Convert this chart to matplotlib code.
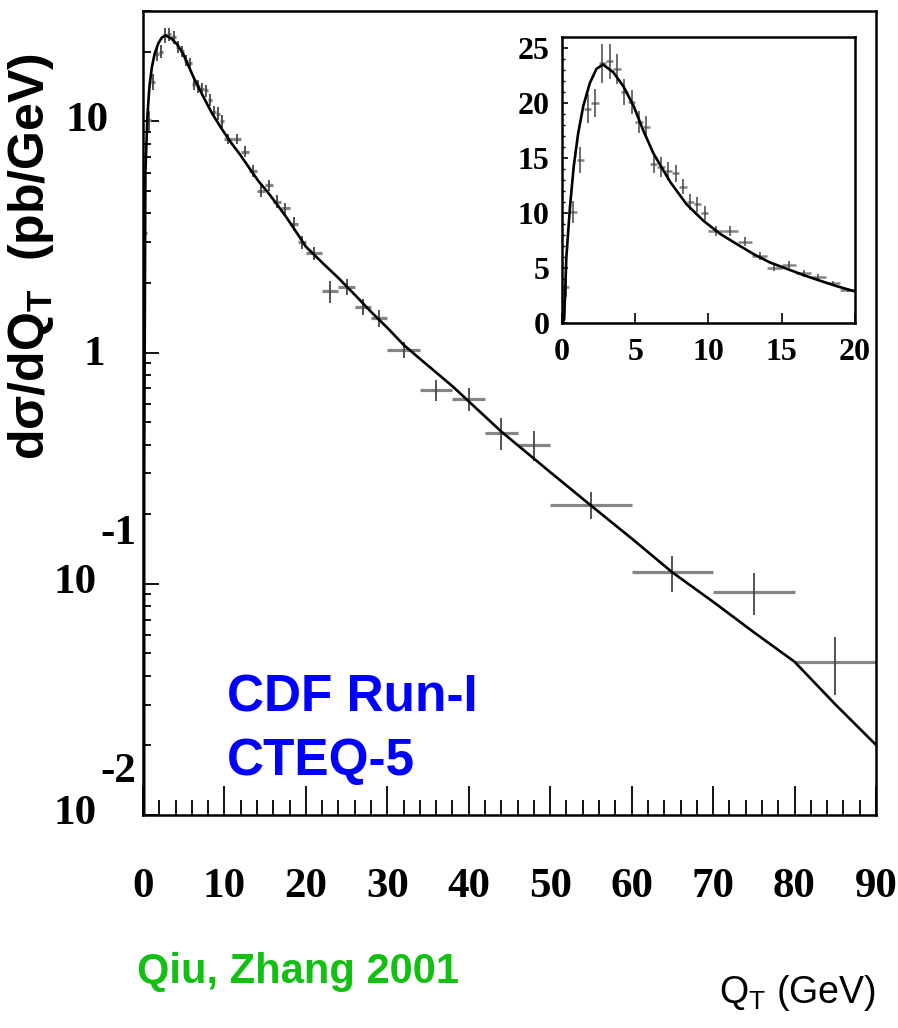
import matplotlib
matplotlib.use('Agg')
import matplotlib.pyplot as plt
import numpy as np
from matplotlib import ticker

# ---- data (CDF Run-I Z pT, CTEQ-5 resummed curve) ----
qt = [0.25, 0.75, 1.25, 1.75, 2.25, 2.75, 3.25, 3.75, 4.25, 4.75,
      5.25, 5.75, 6.25, 6.75, 7.25, 7.75, 8.25, 8.75, 9.25, 9.75,
      10.5, 11.5, 12.5, 13.5, 14.5, 15.5, 16.5, 17.5, 18.5, 19.5,
      21, 23, 25, 27, 29, 32, 36, 40, 44, 48, 55, 65, 75, 85]
qt_half = [0.25] * 20 + [0.5] * 10 + [1] * 5 + [2] * 5 + [5] * 4
xsec = [3.3, 10.1, 14.8, 19.5, 20.0, 23.6, 23.8, 23.1, 21.0, 20.1,
        18.3, 17.8, 14.5, 14.2, 13.8, 13.6, 12.4, 11.0, 10.8, 10.0,
        8.4, 8.4, 7.4, 6.1, 5.0, 5.3, 4.5, 4.2, 3.6, 3.0,
        2.69, 1.84, 1.93, 1.58, 1.41, 1.03, 0.69, 0.63, 0.45, 0.40,
        0.22, 0.112, 0.092, 0.046]
xsec_err = [0.9, 1.0, 1.2, 1.3, 1.3, 1.8, 1.6, 1.4, 1.2, 1.1,
            1.0, 1.0, 0.9, 0.9, 0.8, 0.8, 0.7, 0.7, 0.7, 0.6,
            0.45, 0.45, 0.4, 0.35, 0.3, 0.3, 0.3, 0.25, 0.25, 0.2,
            0.18, 0.2, 0.15, 0.13, 0.12, 0.08, 0.07, 0.07, 0.07, 0.06,
            0.03, 0.02, 0.019, 0.013]

curve_x = [0, 0.15, 0.3, 0.55, 0.8, 1.1, 1.45, 1.9, 2.35, 2.8, 3.5, 4.2, 4.9,
           5.55, 6.25, 7.4, 8.5, 9.65, 10.8, 11.9, 13.1, 14.2, 15.3, 16.5,
           17.6, 18.75, 20, 22, 24, 26, 28, 30, 32, 34, 36, 38, 40, 44,
           50, 55, 60, 65, 70, 75, 80, 85, 90]
curve_y = [0, 0.3, 6.0, 10.6, 14.2, 17.2, 19.7, 21.8, 23.1, 23.5, 22.8, 21.5,
           19.7, 17.5, 15.4, 12.8, 10.8, 9.3, 8.1, 7.2, 6.25, 5.5, 4.95, 4.35,
           3.85, 3.35, 2.87, 2.45, 2.1, 1.78, 1.5, 1.28, 1.08, 0.94, 0.82,
           0.715, 0.615, 0.455, 0.304, 0.218, 0.157, 0.112, 0.0836, 0.0617,
           0.046, 0.0301, 0.0201]

xticks_main = list(range(0, 91, 10))
yticks_main = [0.01, 0.1, 1, 10]
ytick_text = [('10', '-2'), ('10', '-1'), ('1', ''), ('10', '')]
xticks_inset = [0, 5, 10, 15, 20]
yticks_inset = [0, 5, 10, 15, 20, 25]

plt.rcParams['mathtext.fontset'] = 'custom'
plt.rcParams['mathtext.rm'] = 'Liberation Sans'
plt.rcParams['mathtext.bf'] = 'Liberation Sans:bold'

serif = dict(family='Liberation Serif', weight='bold')

fig = plt.figure(figsize=(8.98, 10.28), dpi=100)

# ------------- main panel -------------
ax = fig.add_axes([0.1592, 0.2072, 0.8163, 0.7821])
ax.plot(curve_x, curve_y, color='black', lw=1.9, zorder=3)
ax.errorbar(qt, xsec, xerr=qt_half, fmt='none', ecolor='#858585', elinewidth=2.3)
ax.errorbar(qt, xsec, yerr=xsec_err, fmt='none', ecolor='#454545', elinewidth=1.3)
ax.set_yscale('log')
ax.set_xlim(0, 90)
ax.set_ylim(0.01, 30)

ax.set_xticks(xticks_main)
ax.set_xticklabels([str(v) for v in xticks_main], fontsize=31, **serif)
ax.xaxis.set_minor_locator(ticker.MultipleLocator(2))
ax.tick_params(axis='x', which='major', direction='in', length=21, width=1.3, pad=38)
ax.tick_params(axis='x', which='minor', direction='in', length=10.5, width=1.3)

ax.set_yticks(yticks_main)
ax.yaxis.set_minor_locator(ticker.LogLocator(base=10, subs=range(2, 10)))
ax.yaxis.set_minor_formatter(ticker.NullFormatter())
ax.set_yticklabels(['' for v in yticks_main])
ax.tick_params(axis='y', which='major', direction='in', length=11.5, width=1.3)
ax.tick_params(axis='y', which='minor', direction='in', length=5.8, width=1.3)

# ROOT-style decade labels with detached exponents
label_pos = {'10': (-40, 0), '1': (-35, -1.5)}
for yv, (base, expo) in zip(yticks_main, ytick_text):
    if expo:
        ax.annotate(base, xy=(0, yv), xycoords=('axes fraction', 'data'),
                    xytext=(-49, 0.5), textcoords='offset points',
                    ha='center', va='center', fontsize=31, **serif)
        dy = 36 if expo == '-1' else 31
        ax.annotate(expo, xy=(0, yv), xycoords=('axes fraction', 'data'),
                    xytext=(-18, dy), textcoords='offset points',
                    ha='center', va='center', fontsize=31, **serif)
    else:
        dx, dy = label_pos[base]
        ax.annotate(base, xy=(0, yv), xycoords=('axes fraction', 'data'),
                    xytext=(dx, dy), textcoords='offset points',
                    ha='center', va='center', fontsize=31, **serif)

for sp in ax.spines.values():
    sp.set_linewidth(1.8)

# ------------- inset -------------
axi = fig.add_axes([0.6258, 0.6858, 0.3263, 0.2782])
axi.plot(curve_x, curve_y, color='black', lw=1.9, zorder=3)
axi.errorbar(qt, xsec, xerr=qt_half, fmt='none', ecolor='#858585', elinewidth=1.8)
axi.errorbar(qt, xsec, yerr=xsec_err, fmt='none', ecolor='#454545', elinewidth=1.1)
axi.set_xlim(0, 20)
axi.set_ylim(0, 26)
axi.set_xticks(xticks_inset)
axi.set_xticklabels([str(v) for v in xticks_inset], fontsize=23, **serif)
axi.set_yticks(yticks_inset)
axi.set_yticklabels([str(v) for v in yticks_inset], fontsize=23, **serif)
axi.yaxis.set_minor_locator(ticker.MultipleLocator(1))
axi.tick_params(axis='x', which='major', direction='in', length=7.5, width=1.2, pad=11)
axi.tick_params(axis='y', which='major', direction='in', length=4.5, width=1.2, pad=9)
axi.tick_params(axis='y', which='minor', direction='in', length=2.5, width=1.0)
for sp in axi.spines.values():
    sp.set_linewidth(1.8)

# ------------- texts -------------
fig.text(0.0345, 0.75, 'd\u03c3/dQ$_\\mathbf{T}$  (pb/GeV)', rotation=90,
         ha='center', va='center', fontsize=36, family='Liberation Sans',
         weight='bold')
fig.text(0.9755, 0.0243, 'Q$_\\mathregular{T}$ (GeV)', ha='right', va='baseline',
         fontsize=27, family='Liberation Sans')
fig.text(0.2528, 0.3074, 'CDF Run-I', ha='left', va='baseline', fontsize=37,
         family='Liberation Sans', weight='bold', color='#0000ff')
fig.text(0.2528, 0.2461, 'CTEQ-5', ha='left', va='baseline', fontsize=37,
         family='Liberation Sans', weight='bold', color='#0000ff')
fig.text(0.1526, 0.0438, 'Qiu, Zhang 2001', ha='left', va='baseline', fontsize=30,
         family='Liberation Sans', weight='bold', color='#11c011')

fig.savefig('out.png', dpi=100, facecolor='white')
